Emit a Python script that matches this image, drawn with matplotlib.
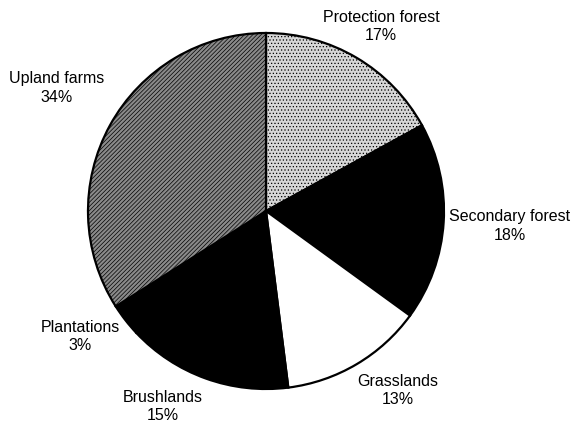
import matplotlib.pyplot as plt

# land use shares, clockwise from 12 o'clock
labels = ['Protection forest', 'Secondary forest', 'Grasslands',
          'Brushlands', 'Plantations', 'Upland farms']
shares = [17, 18, 13, 15, 3, 34]
colors = ['#d6d6d6', 'black', 'white', 'black', 'black', '#8a8a8a']
hatches = ['.....', None, None, None, None, '////////']

# where each label sits (pixel coords of the 572x424 image)
label_xy = [(381, 26), (510, 226), (398, 391), (163, 407), (80, 337), (57, 88)]

plt.rcParams['font.family'] = ['Liberation Sans', 'DejaVu Sans']
plt.rcParams['hatch.color'] = '#555555'
plt.rcParams['hatch.linewidth'] = 0.5

fig = plt.figure(figsize=(5.72, 4.24), dpi=100)
ax = fig.add_axes([0, 0, 1, 1])

wedges, _ = ax.pie(shares, colors=colors, startangle=90, counterclock=False,
                   center=(266, 424 - 211), radius=178,
                   wedgeprops=dict(edgecolor='black', linewidth=1.6))
for w, h in zip(wedges, hatches):
    if h:
        w.set_hatch(h)

# pie() resets the limits, so set them afterwards
ax.set_xlim(0, 572)
ax.set_ylim(0, 424)
ax.set_aspect('equal')
ax.axis('off')

for name, pct, (x, y) in zip(labels, shares, label_xy):
    ax.text(x, 424 - y, '%s\n%d%%' % (name, pct), ha='center', va='center',
            fontsize=11.5, linespacing=1.25)

fig.savefig('out.png', dpi=100)
